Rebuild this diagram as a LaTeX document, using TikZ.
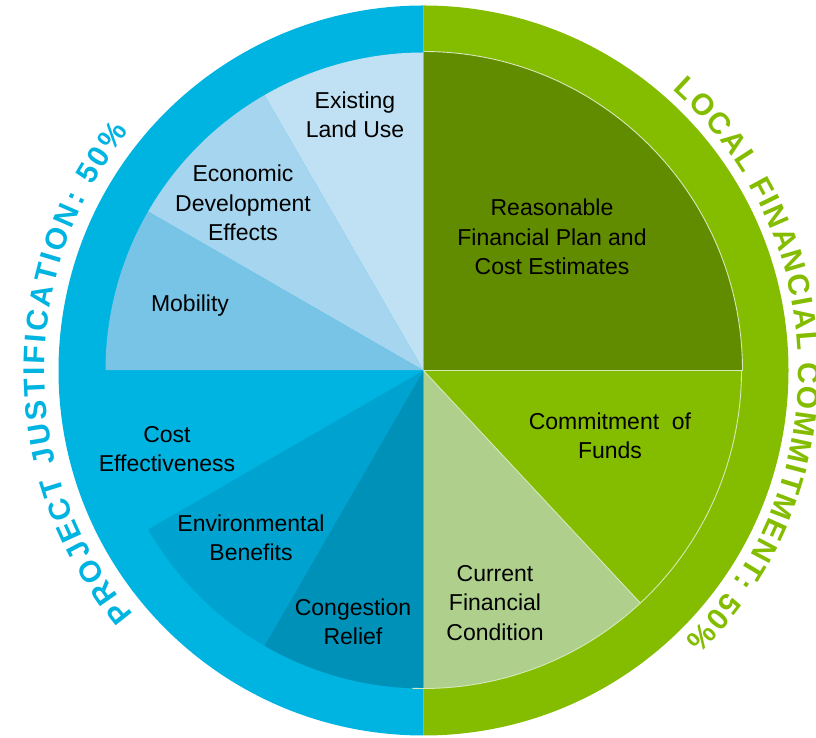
\documentclass[tikz,border=0pt]{standalone}
\usepackage{fontspec}
\setmainfont{Liberation Sans}
\usetikzlibrary{decorations.text,calc}
\definecolor{ringblue}{RGB}{0,180,226}
\definecolor{ringgreen}{RGB}{132,189,0}
\definecolor{landuse}{RGB}{192,225,243}
\definecolor{econ}{RGB}{166,214,239}
\definecolor{mobility}{RGB}{120,196,230}
\definecolor{costeff}{RGB}{0,180,226}
\definecolor{envben}{RGB}{0,163,207}
\definecolor{congest}{RGB}{0,145,185}
\definecolor{reasonable}{RGB}{98,140,0}
\definecolor{commit}{RGB}{132,189,0}
\definecolor{current}{RGB}{174,208,140}
\definecolor{greenline}{RGB}{214,232,184}
\newcommand\ringtitlefont{\fontsize{30}{31}\selectfont\bfseries}
\begin{document}
\begin{tikzpicture}[x=1pt,y=1pt,
  lab/.style={align=center, font=\fontsize{23}{29.5}\selectfont, text=black, inner sep=0pt},
  wedgeline/.style={draw=greenline, line width=0.9pt}]
\useasboundingbox (0,0) rectangle (816,738);
\coordinate (c) at (423.5,367.5);
% outer ring halves
\fill[ringblue] (c) -- ++(90:365) arc[start angle=90,end angle=270,radius=365] -- cycle;
\fill[ringgreen] (c) -- ++(-90:365) arc[start angle=-90,end angle=90,radius=365] -- cycle;
% blue wedges
\fill[landuse] (c) -- ++(90:318) arc[start angle=90,end angle=120,radius=318] -- cycle;
\fill[econ] (c) -- ++(120:318) arc[start angle=120,end angle=150,radius=318] -- cycle;
\fill[mobility] (c) -- ++(150:318) arc[start angle=150,end angle=180,radius=318] -- cycle;
\fill[costeff] (c) -- ++(180:318) arc[start angle=180,end angle=210,radius=318] -- cycle;
\fill[envben] (c) -- ++(210:318) arc[start angle=210,end angle=240,radius=318] -- cycle;
\fill[congest] (c) -- ++(240:318) arc[start angle=240,end angle=270,radius=318] -- cycle;
% green wedges
\fill[reasonable] (c) -- ++(0:319) arc[start angle=0,end angle=90,radius=319] -- cycle;
\fill[commit] (c) -- ++(-47:318) arc[start angle=-47,end angle=0,radius=318] -- cycle;
\fill[current] (c) -- ++(-90:318) arc[start angle=-90,end angle=-47,radius=318] -- cycle;
% thin light outlines on green side
\draw[wedgeline] ($(c)+(90:319)$) arc[start angle=90,end angle=0,radius=319] -- (c);
\draw[wedgeline] (c) -- ++(-47:318) arc[start angle=-47,end angle=0,radius=318];
\draw[wedgeline] ($(c)+(-92:318)$) arc[start angle=-92,end angle=-47,radius=318];
% curved titles
\begin{scope}
\ringtitlefont
\path[decorate,decoration={text along path, text align={fit to path}, text color=ringblue,
  text={|\ringtitlefont|PROJECT JUSTIFICATION: 50{\%}}}]
  ($(c)+(220:379)$) arc[start angle=220,end angle=141,radius=379];
\path[decorate,decoration={text along path, text align={fit to path}, text color=ringgreen,
  text={|\ringtitlefont|LOCAL FINANCIAL COMMITMENT: 50{\%}}}]
  ($(c)+(48.4:375)$) arc[start angle=48.4,end angle=-45.8,radius=375];
\end{scope}
% labels
\node[lab] (landuse) at (355,623) {Existing\\Land Use};
\node[lab] (econ) at (243,535) {Economic\\Development\\Effects};
\node[lab] (mobility) at (190,432) {Mobility};
\node[lab] (costeff) at (167,289) {Cost\\Effectiveness};
\node[lab] (envben) at (251,200) {Environmental\\Benefits};
\node[lab] (congest) at (353,116) {Congestion\\Relief};
\node[lab] (reasonable) at (552,501) {Reasonable\\Financial Plan and\\Cost Estimates};
\node[lab] (commit) at (610,302) {Commitment\ \ of\\Funds};
\node[lab] (current) at (495,135) {Current\\Financial\\Condition};
\end{tikzpicture}
\end{document}
